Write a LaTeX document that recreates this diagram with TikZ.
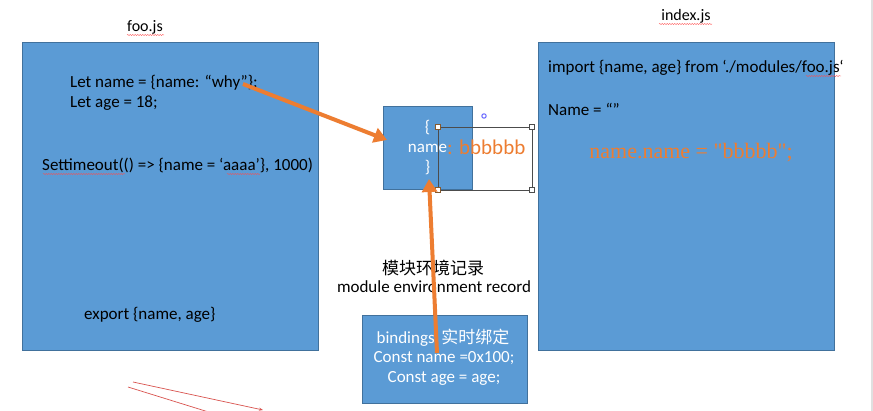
\documentclass[tikz,border=0pt]{standalone}
\usepackage{fontspec}
\setmainfont{Carlito}
\newfontfamily\cjk{Noto Sans CJK SC}
\newfontfamily\serifb{Liberation Serif}
\usetikzlibrary{arrows.meta,decorations.pathmorphing}
\definecolor{boxblue}{HTML}{5B9BD5}
\definecolor{boxedge}{HTML}{41719C}
\definecolor{orangeA}{HTML}{ED7D31}
\definecolor{redline}{HTML}{D9534F}
\tikzset{
  module/.style={draw=boxedge, fill=boxblue, line width=0.8pt},
  code/.style={anchor=west, inner sep=0pt, font=\fontsize{17}{20}\selectfont, text=black},
  wcode/.style={inner sep=0pt, font=\fontsize{17}{20}\selectfont, text=white, align=center},
  title/.style={inner sep=0pt, font=\fontsize{16}{18}\selectfont},
  flow/.style={draw=orangeA, line width=4pt, -{Triangle[length=13pt,width=15pt]}},
  handle/.style={draw=black!70, fill=white, line width=0.5pt, minimum size=5pt, inner sep=0pt},
  squig/.style={draw=red!70, line width=0.4pt, decorate, decoration={snake, amplitude=0.5pt, segment length=2.5pt}},
}
\begin{document}
\begin{tikzpicture}[x=1pt,y=-1pt]
\useasboundingbox (0,0) rectangle (873,411);
\fill[white] (0,0) rectangle (873,411);
\fill[black!12] (871,0) rectangle (873,411);

% foo.js
\node[title] (footitle) at (145,27) {foo.js};
\draw[squig] (127,35) -- (164,35);
\draw[module] (22,42) rectangle (318,350);
\node[code] (l1) at (70,83) {Let name = \{name: “why”\};};
\node[code] (l2) at (70,103) {Let age = 18;};
\node[code] (l3) at (42,165) {Settimeout(() => \{name = ‘aaaa’\}, 1000)};
\draw[squig] (43,174) -- (125,174);
\draw[squig] (227,174) -- (260,174);
\node[code] (l4) at (84,315) {export \{name, age\}};

% index.js
\node[title] (idxtitle) at (686,16) {index.js};
\draw[squig] (659,24) -- (712,24);
\draw[module] (538,42) rectangle (834,350);
\node[code] (i1) at (548,68) {import \{name, age\} from ‘./modules/foo.js‘};
\draw[squig] (806,76) -- (841,76);
\node[code] (i2) at (548,109) {Name = “”};
\node[inner sep=0pt, text=orangeA, font=\serifb\fontsize{22}{24}\selectfont] (i3) at (691,153) {name.name = \symbol{34}bbbbb\symbol{34};};

% record box
\draw[module] (383,106) rectangle (472,189);
\node[wcode] (rec) at (427.5,148) {\{\\name\\\}};
\coordinate (recw) at (387,140);
\coordinate (recs) at (429,179);

% text box
\draw[black!70, line width=0.7pt] (438,127) rectangle (532,190);
\node[inner sep=0pt, anchor=west, text=orangeA, font=\fontsize{21}{24}\selectfont] (tb) at (447,147) {: bbbbbb};
\node[handle, fill=white, draw=brown!70!black] at (438,127) {};
\node[handle, draw=brown!70!black] at (438,190) {};
\node[handle] at (532,127) {};
\node[handle] at (532,190) {};
\draw[blue!60, line width=1pt] (484,116) circle (2.2pt);

% labels
\node[title, font=\cjk\fontsize{17}{18}\selectfont] (lab1) at (433,268) {模块环境记录};
\node[title, font=\fontsize{17}{18}\selectfont] (lab2) at (434,287) {module environment record};

% bindings box
\draw[module] (362,315) rectangle (527,403);
\node[wcode] (b1) at (443,338) {bindings \,{\cjk 实时绑定}};
\node[wcode] (b2) at (444,358) {Const name =0x100;};
\node[wcode] (b3) at (444,378) {Const age = age;};
\coordinate (bstart) at (437,353);
\coordinate (fstart) at (243,84);

% orange arrows
\draw[flow] (fstart) -- (recw);
\draw[flow] (bstart) -- (recs);

% red lines
\coordinate (r1a) at (133,382);
\coordinate (r1b) at (263,410);
\coordinate (r2a) at (128,387);
\coordinate (r2b) at (215,414);
\draw[redline, line width=0.7pt, -{Stealth[length=4pt,width=3pt]}] (r1a) -- (r1b);
\draw[redline, line width=0.7pt] (r2a) -- (r2b);
\end{tikzpicture}
\end{document}
